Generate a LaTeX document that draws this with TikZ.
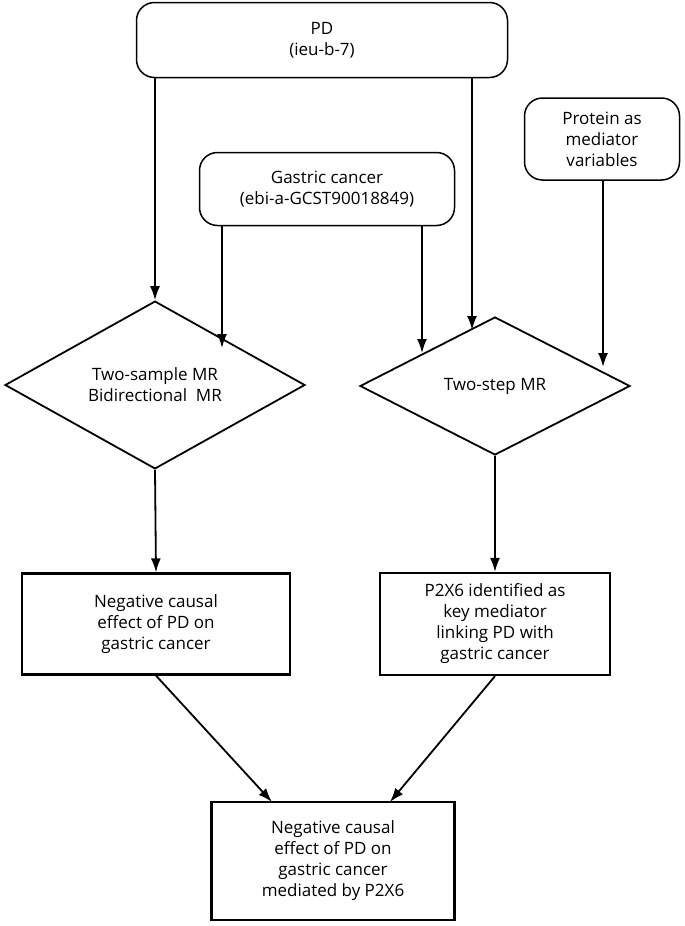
\documentclass[tikz,border=0pt]{standalone}
\usepackage{fontspec}
\setmainfont{Open Sans}
\usetikzlibrary{shapes.geometric,arrows.meta}
\begin{document}
\begin{tikzpicture}[x=1pt,y=-1pt]
		\tikzstyle{fleche}=[-{Latex[length=14pt,width=10pt]},line width=1.8pt]
		\tikzstyle{donnee}=[draw,line width=1.5pt,rounded corners=18pt,align=center,inner sep=0pt,font=\fontsize{17}{21}\selectfont]
		\tikzstyle{test}=[draw,line width=1.8pt,diamond,inner sep=0pt,align=center,font=\fontsize{17}{21}\selectfont]
		\tikzstyle{resultat}=[draw,line width=2.2pt,align=center,inner sep=0pt,font=\fontsize{17}{21}\selectfont]
		
		\useasboundingbox (0,0) rectangle (685,926);
		
		\node[donnee,minimum width=371,minimum height=75] (PD) at (322,40) {PD\\(ieu-b-7)};
		\node[donnee,minimum width=255,minimum height=73] (GC) at (327,189) {Gastric cancer\\(ebi-a-GCST90018849)};
		\node[donnee,minimum width=155,minimum height=82] (Prot) at (602,139) {Protein as\\mediator\\variables};
		
		\node[test,minimum width=300,minimum height=134] (Da) at (155,385) {Two-sample MR\\Bidirectional~~MR};
		\node[test,minimum width=270,minimum height=138] (Db) at (495,386) {Two-step MR};
		
		\node[resultat,minimum width=268,minimum height=101] (Ra) at (156,624) {Negative causal\\effect of PD on\\gastric cancer};
		\node[resultat,minimum width=230,minimum height=102] (Rb) at (495,624) {P2X6 identified as\\key mediator\\linking PD with\\gastric cancer};
		\node[resultat,minimum width=243,minimum height=118] (Rc) at (333,861) {Negative causal\\effect of PD on\\gastric cancer\\mediated by P2X6};
		
		\coordinate (PDa) at (155,78);
		\coordinate (PDb) at (472,78);
		\coordinate (GCa) at (222,225);
		\coordinate (GCb) at (422,225);
		\coordinate (Ea) at (222,348);
		\coordinate (Eb) at (422,353);
		\coordinate (Ec) at (472,330);
		\coordinate (Ed) at (603,367);
		
		\draw[fleche] (PDa)--(Da.north);
		\draw[fleche] (GCa)--(Ea);
		\draw[fleche] (GCb)--(Eb);
		\draw[fleche] (PDb)--(Ec);
		\draw[fleche] (Prot.south -| Ed)--(Ed);
		\draw[fleche] (Da.south)--(Ra.north);
		\draw[fleche] (Db.south)--(Rb.north);
		\draw[fleche] (Ra.south)--(272,802);
		\draw[fleche] (Rb.south)--(390,802);
		\end{tikzpicture}
\end{document}
